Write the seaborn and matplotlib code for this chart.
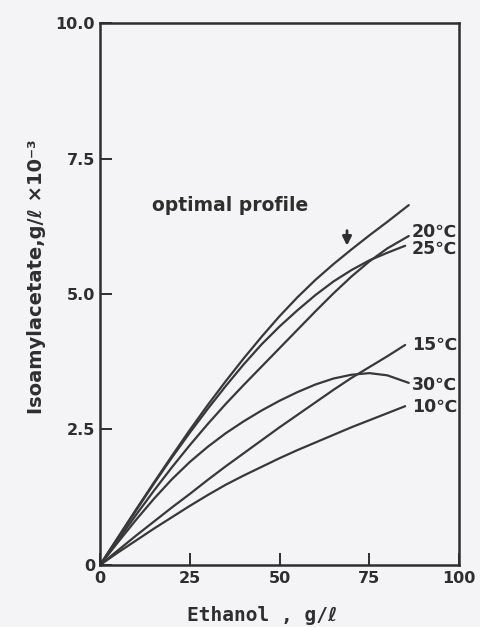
import matplotlib
matplotlib.use("Agg")
import matplotlib.pyplot as plt
import seaborn as sns
import pandas as pd

# Isoamyl acetate vs. ethanol for fermentations at constant temperature
ethanol_opt = [0, 5, 10, 15, 20, 25, 30, 35, 40, 45, 50, 55, 60, 65, 70, 75, 80, 86]
iso_opt = [0, 0.51, 1.02, 1.52, 2.01, 2.49, 2.95, 3.39, 3.81, 4.21, 4.59, 4.94, 5.26, 5.55, 5.82, 6.08, 6.33, 6.64]

ethanol_20 = [0, 5, 10, 15, 20, 25, 30, 35, 40, 45, 50, 55, 60, 65, 70, 75, 80, 86]
iso_20 = [0, 0.46, 0.92, 1.37, 1.80, 2.21, 2.60, 2.97, 3.32, 3.66, 4.00, 4.34, 4.68, 5.01, 5.32, 5.60, 5.84, 6.07]

ethanol_25 = [0, 5, 10, 15, 20, 25, 30, 35, 40, 45, 50, 55, 60, 65, 70, 75, 80, 85]
iso_25 = [0, 0.50, 1.00, 1.50, 1.98, 2.44, 2.88, 3.30, 3.70, 4.07, 4.40, 4.70, 4.98, 5.23, 5.44, 5.62, 5.76, 5.89]

ethanol_15 = [0, 5, 10, 15, 20, 25, 30, 35, 40, 45, 50, 55, 60, 65, 70, 75, 80, 85]
iso_15 = [0, 0.27, 0.54, 0.80, 1.06, 1.31, 1.57, 1.82, 2.06, 2.30, 2.54, 2.77, 3.00, 3.23, 3.45, 3.65, 3.85, 4.06]

ethanol_30 = [0, 5, 10, 15, 20, 25, 30, 35, 40, 45, 50, 55, 60, 65, 70, 75, 80, 86]
iso_30 = [0, 0.42, 0.83, 1.22, 1.58, 1.90, 2.18, 2.43, 2.65, 2.85, 3.03, 3.19, 3.33, 3.44, 3.51, 3.54, 3.50, 3.36]

ethanol_10 = [0, 5, 10, 15, 20, 25, 30, 35, 40, 45, 50, 55, 60, 65, 70, 75, 80, 85]
iso_10 = [0, 0.23, 0.45, 0.67, 0.88, 1.09, 1.29, 1.48, 1.65, 1.81, 1.97, 2.12, 2.26, 2.40, 2.54, 2.67, 2.80, 2.93]

curve_labels = ["20℃", "25℃", "15℃", "30℃", "10℃"]
label_y = [6.15, 5.83, 4.06, 3.33, 2.92]

x_ticks = [0, 25, 50, 75, 100]
x_ticklabels = ["0", "25", "50", "75", "100"]
y_ticks = [0, 2.5, 5.0, 7.5, 10.0]
y_ticklabels = ["0", "2.5", "5.0", "7.5", "10.0"]

sns.set_style("ticks")
plt.rcParams["font.family"] = ["DejaVu Sans"]
plt.rcParams["font.weight"] = "bold"

ink = "#2e2e2e"
line_col = "#383838"
bg = "#f4f4f6"

fig = plt.figure(figsize=(4.81, 6.27), dpi=100, facecolor=bg)
ax = fig.add_axes([0.2079, 0.0989, 0.7464, 0.8644])
ax.set_facecolor(bg)

series = [
    ("optimal", ethanol_opt, iso_opt),
    ("20", ethanol_20, iso_20),
    ("25", ethanol_25, iso_25),
    ("15", ethanol_15, iso_15),
    ("30", ethanol_30, iso_30),
    ("10", ethanol_10, iso_10),
]
frames = [pd.DataFrame({"ethanol": xs, "iso": ys, "run": name}) for name, xs, ys in series]
df = pd.concat(frames, ignore_index=True)

sns.lineplot(data=df, x="ethanol", y="iso", units="run", estimator=None,
             color=line_col, lw=1.6, sort=False, ax=ax)

ax.set_xlim(0, 100)
ax.set_ylim(0, 10)
ax.set_xticks(x_ticks)
ax.set_xticklabels(x_ticklabels)
ax.set_yticks(y_ticks)
ax.set_yticklabels(y_ticklabels)
ax.tick_params(axis="both", direction="in", length=8.5, width=1.4, color=ink,
               labelsize=11.5, labelcolor=ink)
ax.tick_params(axis="x", pad=4.5)
ax.tick_params(axis="y", pad=3.5)
for lab in ax.get_xticklabels() + ax.get_yticklabels():
    lab.set_fontweight("bold")

for side in ["left", "right", "top", "bottom"]:
    ax.spines[side].set_visible(True)
    ax.spines[side].set_linewidth(1.8)
    ax.spines[side].set_color(ink)

# temperature labels at the right-hand ends of the curves
for txt, yv in zip(curve_labels, label_y):
    ax.text(86.8, yv, txt, fontsize=12.5, fontweight="bold", color=ink,
            ha="left", va="center")

ax.text(14.5, 6.64, "optimal profile", fontsize=13.5, fontweight="bold",
        color=ink, ha="left", va="center")
ax.annotate("", xy=(68.8, 5.84), xytext=(68.8, 6.22),
            arrowprops=dict(arrowstyle="-|>", lw=2.0, color=ink, mutation_scale=13))

ax.set_xlabel("Ethanol , g/ℓ", fontsize=14, fontweight="bold", color=ink,
              family=["DejaVu Sans Mono", "DejaVu Sans"])
ax.xaxis.set_label_coords(0.451, -0.075)
ax.set_ylabel("Isoamylacetate,g/ℓ ×10⁻³", fontsize=14, fontweight="bold", color=ink)
ax.yaxis.set_label_coords(-0.15, 0.531)

fig.savefig("out.png", dpi=100, facecolor=bg)
